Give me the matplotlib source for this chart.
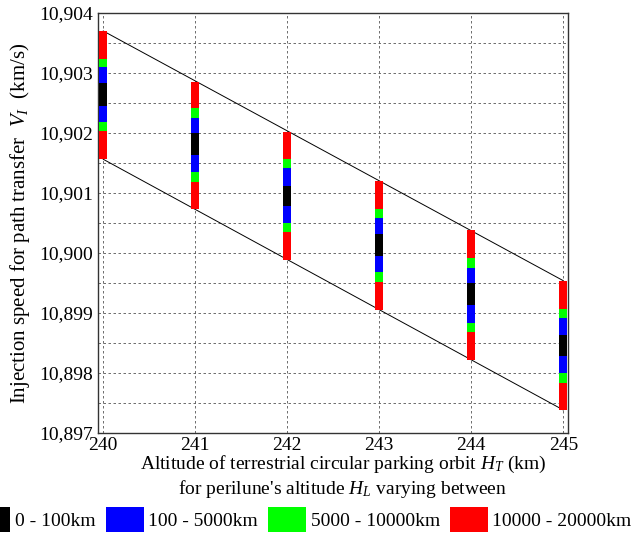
import matplotlib
matplotlib.use("Agg")
import matplotlib.pyplot as plt
from matplotlib.patches import Patch
from matplotlib.ticker import FuncFormatter, MultipleLocator

plt.rcParams["font.family"] = ["Liberation Serif", "DejaVu Serif"]
plt.rcParams["mathtext.fontset"] = "custom"
plt.rcParams["mathtext.rm"] = "Liberation Serif"
plt.rcParams["mathtext.it"] = "Liberation Serif:italic"

# terrestrial parking orbit altitude H_T (km)
altitudes = [240, 241, 242, 243, 244, 245]

# band boundaries of injection speed V_I (km/s), top to bottom
red_top = [10.90370, 10.902855, 10.902022, 10.901200, 10.900383, 10.899538]
green_top = [10.903228, 10.902412, 10.901567, 10.900733, 10.899912, 10.899067]
blue_top = [10.903100, 10.902255, 10.901412, 10.900578, 10.899755, 10.898917]
black_top = [10.902828, 10.901995, 10.901122, 10.900317, 10.899495, 10.898628]
black_bot = [10.902450, 10.901628, 10.900780, 10.899950, 10.899128, 10.898283]
blue_bot = [10.902183, 10.901355, 10.900495, 10.899678, 10.898838, 10.897995]
green_bot = [10.902033, 10.901188, 10.900345, 10.899522, 10.898678, 10.897840]
red_bot = [10.901562, 10.900728, 10.899878, 10.899050, 10.898217, 10.897383]

legend_labels = ["0 - 100km", "100 - 5000km", "5000 - 10000km", "10000 - 20000km"]
colors = {"black": "#000000", "blue": "#0000ff", "green": "#00ff00", "red": "#ff0000"}

fig = plt.figure(figsize=(6.32, 5.37), dpi=100)
ax = fig.add_axes([0.1555, 0.1937, 0.7437, 0.7821])

# envelope lines through the ends of the first and last bars
ax.plot([altitudes[0], altitudes[-1]], [red_top[0], red_top[-1]],
        color="black", linewidth=0.7, zorder=2)
ax.plot([altitudes[0], altitudes[-1]], [red_bot[0], red_bot[-1]],
        color="black", linewidth=0.7, zorder=2)

width = 0.09
segments = [
    (green_top, red_top, "red"),
    (blue_top, green_top, "green"),
    (black_top, blue_top, "blue"),
    (black_bot, black_top, "black"),
    (blue_bot, black_bot, "blue"),
    (green_bot, blue_bot, "green"),
    (red_bot, green_bot, "red"),
]
for lo, hi, c in segments:
    heights = [h - l for h, l in zip(hi, lo)]
    ax.bar(altitudes, heights, width, bottom=lo, color=colors[c],
           linewidth=0, zorder=3)

ax.set_xlim(239.946, 245.054)
ax.set_ylim(10.897, 10.904)
ax.set_xticks(altitudes)
ax.yaxis.set_major_locator(MultipleLocator(0.001))
ax.yaxis.set_minor_locator(MultipleLocator(0.0005))
ax.yaxis.set_major_formatter(FuncFormatter(lambda v, p: f"{v:.3f}".replace(".", ",")))
ax.grid(True, which="both", axis="y", linestyle=(0, (3, 3)), color="#555555", linewidth=0.6)
ax.grid(True, which="major", axis="x", linestyle=(0, (3, 3)), color="#555555", linewidth=0.6)
ax.tick_params(axis="both", which="both", direction="in", length=0, labelsize=14)
ax.tick_params(axis="x", pad=3)
ax.tick_params(axis="y", pad=4)
for s in ax.spines.values():
    s.set_color("#333333")
    s.set_linewidth(1.0)

ax.set_ylabel("Injection speed for path transfer  $V_I$  (km/s)", fontsize=15)
ax.yaxis.set_label_coords(-0.142, 0.5, transform=ax.transAxes)
ax.set_xlabel("Altitude of terrestrial circular parking orbit $H_T$ (km)\n"
              "for perilune's altitude $H_L$ varying between",
              fontsize=14, linespacing=1.2)
ax.xaxis.set_label_coords(0.52, -0.05, transform=ax.transAxes)
ax.xaxis.label.set_va("top")

handles = [Patch(facecolor=colors[c], edgecolor="none")
           for c in ["black", "blue", "green", "red"]]
fig.legend(handles, legend_labels, loc="center", bbox_to_anchor=(0.478, 0.033),
           ncol=4, frameon=False, fontsize=14, handlelength=1.95, handleheight=1.6,
           handletextpad=0.25, columnspacing=0.5, borderpad=0, borderaxespad=0)

fig.savefig("out.png", dpi=100)
